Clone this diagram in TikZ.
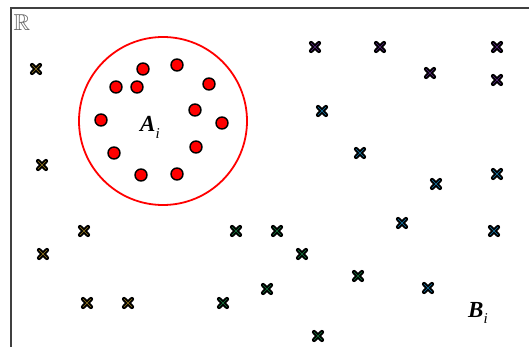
\documentclass[tikz,border=0pt]{standalone}
\usepackage{amsmath,amssymb}
\usepackage{fontspec}
\setmainfont{Liberation Serif}
\usepackage{tikz}
\usetikzlibrary{shapes.misc}
\usepackage{xcolor}

\definecolor{crossolive}{RGB}{150,120,30}
\definecolor{crossgreen}{RGB}{20,120,60}
\definecolor{crossblue}{RGB}{20,120,170}
\definecolor{crosspurple}{RGB}{90,40,130}

\tikzset{
  samplemark/.style={cross out, draw=black, line width=1.9pt, line cap=round,
    double=#1, double distance=0.5pt, minimum size=6pt, inner sep=0pt},
  reddot/.style={circle, fill=red, draw=black, line width=1.4pt,
    minimum size=12pt, inner sep=0pt},
  setlabel/.style={font=\fontsize{23}{25}\selectfont\bfseries\itshape, inner sep=0pt}
}

\newcommand{\subidx}{\raisebox{-0.3em}{\fontsize{15}{15}\selectfont\mdseries\itshape i}}

\begin{document}
\begin{tikzpicture}[x=1pt, y=-1pt]
  \useasboundingbox (0,0) rectangle (529,347);
  % cadre de l'espace
  \begin{scope}
    \clip (0,0) rectangle (529,347);
    \draw[black!75, line width=2pt] (11,8) rectangle (560,380);
  \end{scope}
  \node[text=black!60, font=\fontsize{23}{23}\selectfont, inner sep=0pt] (reals) at (22,23) {$\mathbb{R}$};

  % ensemble A_i
  \draw[red, line width=1.8pt] (163,121) circle (84);
  \foreach \px/\py [count=\i] in {143/69, 177/65, 116/87, 137/87, 209/84, 195/110,
      101/120, 222/123, 114/153, 196/147, 141/175, 177/174}
    \node[reddot] (a\i) at (\px,\py) {};
  \node[setlabel, anchor=base west] (alabel) at (140,132) {A\subidx};

  % points de B_i
  \foreach \px/\py [count=\i] in {36/69, 42/165, 84/231, 43/254, 87/303, 128/303}
    \node[samplemark=crossolive] (bl\i) at (\px,\py) {};
  \foreach \px/\py [count=\i] in {236/231, 277/231, 223/303, 267/289, 302/254,
      318/336, 358/276}
    \node[samplemark=crossgreen] (bm\i) at (\px,\py) {};
  \foreach \px/\py [count=\i] in {322/111, 360/153, 436/184, 497/174, 402/223,
      494/231, 428/288}
    \node[samplemark=crossblue] (br\i) at (\px,\py) {};
  \foreach \px/\py [count=\i] in {315/47, 380/47, 497/47, 430/73, 497/80}
    \node[samplemark=crosspurple] (bt\i) at (\px,\py) {};
  \node[setlabel, anchor=base west] (blabel) at (468,317) {B\subidx};
\end{tikzpicture}
\end{document}
